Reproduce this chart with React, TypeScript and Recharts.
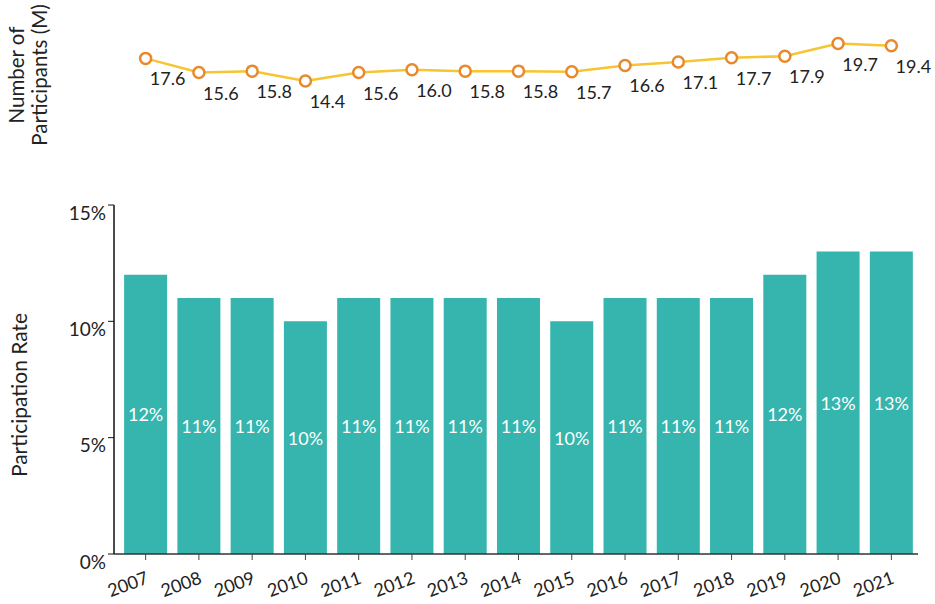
import React from 'react';
import { LineChart, Line, BarChart, Bar, XAxis, YAxis, LabelList, Label } from 'recharts';

const years = [2007, 2008, 2009, 2010, 2011, 2012, 2013, 2014, 2015, 2016, 2017, 2018, 2019, 2020, 2021];
const participants = [17.6, 15.6, 15.8, 14.4, 15.6, 16.0, 15.8, 15.8, 15.7, 16.6, 17.1, 17.7, 17.9, 19.7, 19.4];
const rates = [12, 11, 11, 10, 11, 11, 11, 11, 10, 11, 11, 11, 12, 13, 13];
const rateTicks = [0, 5, 10, 15];

const lineData = years.map((y, i) => ({ year: y, value: participants[i] }));
const barData = years.map((y, i) => ({ year: String(y), rate: rates[i] }));

const FONT = 'Lato, "Open Sans", sans-serif';
const TEXT = '#222';
const BAR = '#35b5ad';
const LINE = '#f6c531';
const DOT = '#e8892c';

const Dot = (props: any) => {
  const { cx, cy } = props;
  if (cx == null || cy == null) return null;
  return <circle cx={cx} cy={cy} r={5.5} fill="#fff" stroke={DOT} strokeWidth={2.5} />;
};

const PointLabel = (props: any) => {
  const { x, y, value } = props;
  return (
    <text x={x + 22} y={y + 20} textAnchor="middle" dominantBaseline="central" fontSize={18} fill={TEXT}>
      {Number(value).toFixed(1)}
    </text>
  );
};

const BarValueLabel = (props: any) => {
  const { x, y, width, height, value } = props;
  return (
    <text x={x + width / 2} y={y + height / 2} textAnchor="middle" dominantBaseline="central" fontSize={18} fill="#fff">
      {value}%
    </text>
  );
};

const YTick = (props: any) => {
  const { x, y, payload } = props;
  return (
    <text x={x} y={y + 7} textAnchor="end" dominantBaseline="central" fontSize={19} fill={TEXT}>
      {payload.value}%
    </text>
  );
};

const XTick = (props: any) => {
  const { x, y, payload } = props;
  const ex = x + 4;
  const ey = y + 21;
  return (
    <text x={ex} y={ey} textAnchor="end" fontSize={18} fill={TEXT} transform={`rotate(-20, ${ex}, ${ey})`}>
      {payload.value}
    </text>
  );
};

const TopTitle = () => (
  <g>
    <text x={16} y={75} transform="rotate(-90, 16, 75)" textAnchor="middle" dominantBaseline="central" fontSize={20.5} fill={TEXT}>
      Number of
    </text>
    <text x={39} y={75} transform="rotate(-90, 39, 75)" textAnchor="middle" dominantBaseline="central" fontSize={20.5} fill={TEXT}>
      Participants (M)
    </text>
  </g>
);

const RateTitle = () => (
  <text x={18} y={395} transform="rotate(-90, 18, 395)" textAnchor="middle" dominantBaseline="central" fontSize={21} fill={TEXT}>
    Participation Rate
  </text>
);

export default function App() {
  return (
    <div style={{ position: 'absolute', left: 0, top: 0, width: 935, height: 604, fontFamily: FONT, background: '#fff' }}>
      <div style={{ position: 'absolute', left: 0, top: 0 }}>
        <BarChart
          width={935}
          height={604}
          data={barData}
          margin={{ top: 205, right: 17, bottom: 0, left: 54 }}
          barCategoryGap="9.6%"
        >
          <XAxis
            dataKey="year"
            type="category"
            height={50}
            padding={{ left: 5, right: 0 }}
            axisLine={{ stroke: '#333', strokeWidth: 1.5 }}
            tickLine={{ stroke: '#444' }}
            tickSize={6}
            tickMargin={2}
            interval={0}
            tick={<XTick />}
          />
          <YAxis
            width={60}
            domain={[0, 15]}
            ticks={rateTicks}
            axisLine={{ stroke: '#111', strokeWidth: 1.5 }}
            tickLine={{ stroke: '#111' }}
            tickSize={6}
            tickMargin={2}
            tick={<YTick />}
          >
            <Label content={<RateTitle />} />
          </YAxis>
          <Bar dataKey="rate" fill={BAR} isAnimationActive={false}>
            <LabelList dataKey="rate" content={<BarValueLabel />} />
          </Bar>
        </BarChart>
      </div>
      <div style={{ position: 'absolute', left: 0, top: 0 }}>
        <LineChart
          width={935}
          height={190}
          data={lineData}
          margin={{ top: 6, right: 17, bottom: 7, left: 0 }}
        >
          <XAxis dataKey="year" type="number" domain={[2006.5, 2021.5]} hide />
          <YAxis
            domain={[0, 25]}
            width={119}
            axisLine={false}
            tickLine={false}
            tick={false}
          >
            <Label content={<TopTitle />} />
          </YAxis>
          <Line
            dataKey="value"
            stroke={LINE}
            strokeWidth={2.5}
            dot={<Dot />}
            activeDot={false}
            isAnimationActive={false}
          >
            <LabelList dataKey="value" content={<PointLabel />} />
          </Line>
        </LineChart>
      </div>
    </div>
  );
}
